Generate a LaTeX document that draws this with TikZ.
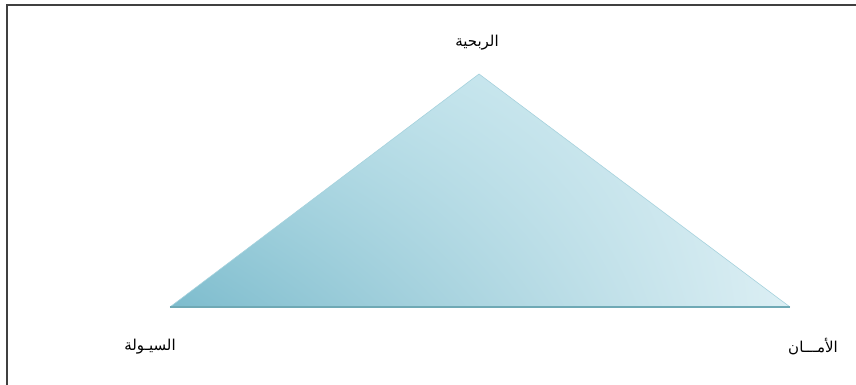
\documentclass[tikz,border=0pt]{standalone}
\usepackage{fontspec}
\usetikzlibrary{shadings}
\newfontfamily\arabicfont[Script=Arabic]{DejaVu Sans}
\TeXXeTstate=1
\definecolor{tridark}{HTML}{7DBCCD}
\definecolor{trimid}{HTML}{B2DCE6}
\definecolor{trilight}{HTML}{DCEFF4}
\definecolor{triedge}{HTML}{A6D2DD}
\definecolor{tribase}{HTML}{6FA9B5}
\begin{document}
\begin{tikzpicture}[x=1pt,y=-1pt,
  lbl/.style={font=\arabicfont\fontsize{15}{18}\selectfont,inner sep=0pt}]
\useasboundingbox (0,0) rectangle (856,385);
% frame
\draw[line width=2pt,black!75] (7,385)--(7,5)--(856,5);
% triangle
\coordinate (apex) at (479,74);
\coordinate (baseL) at (170,307);
\coordinate (baseR) at (790,307);
\shade[lower left=tridark,upper right=trilight,upper left=trimid,lower right=trilight] (baseL)--(apex)--(baseR)--cycle;
\draw[triedge,line width=.6pt] (baseL)--(apex)--(baseR);
\draw[tribase,line width=1.6pt] (baseL)--(baseR);
% labels
\node[lbl] (profit) at (477,43) {\beginR الربحية\endR};
\node[lbl] (liquidity) at (150,347) {\beginR السيـولة\endR};
\node[lbl] (safety) at (813,347) {\beginR الأمـــان\endR};
\end{tikzpicture}
\end{document}
